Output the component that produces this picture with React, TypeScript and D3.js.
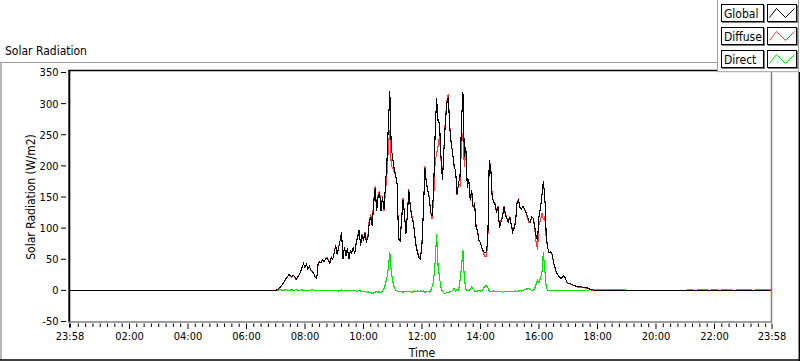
import React from 'react';
import * as d3 from 'd3';

const W = 800;
const H = 361;

const chartTitle = 'Solar Radiation';
const yAxisTitle = 'Solar Radiation (W/m2)';
const xAxisTitle = 'Time';
const seriesNames = ['Global', 'Diffuse', 'Direct'];
const seriesColors = ['#000000', '#ff3c3c', '#00e600'];

const dayStart = '2020-01-01T23:58';
const dayEnd = '2020-01-02T23:58';
const sampleStart = '2020-01-02T07:00';
const sampleStepMin = 3;

const globalRad = [
  0, 1, 3, 5, 8, 11, 15, 19, 22, 25,
  24, 22, 24, 22, 18, 21, 25, 30, 37, 43,
  37, 42, 34, 39, 33, 31, 27, 21, 19, 43,
  46, 44, 49, 46, 50, 52, 48, 44, 53, 50,
  60, 72, 58, 68, 80, 94, 50, 70, 55, 68,
  50, 64, 60, 69, 58, 76, 85, 97, 72, 88,
  80, 92, 78, 84, 110, 118, 104, 140, 165, 128,
  150, 158, 128, 150, 130, 168, 204, 265, 320, 230,
  212, 195, 185, 170, 82, 80, 110, 145, 124, 90,
  120, 161, 135, 118, 110, 90, 70, 60, 52, 50,
  75, 129, 196, 172, 160, 148, 125, 120, 165, 252,
  309, 272, 268, 215, 177, 225, 270, 300, 311, 262,
  235, 220, 200, 192, 155, 172, 183, 270, 318, 215,
  230, 165, 178, 145, 161, 134, 140, 102, 95, 80,
  76, 68, 63, 60, 62, 80, 209, 198, 150, 142,
  138, 125, 134, 100, 110, 116, 134, 122, 115, 110,
  118, 106, 94, 100, 110, 140, 145, 133, 130, 135,
  131, 126, 120, 112, 110, 118, 116, 104, 88, 81,
  118, 132, 152, 175, 150, 86, 68, 60, 62, 58,
  45, 36, 28, 25, 21, 19, 21, 24, 20, 14,
  11, 11, 10, 9, 8, 7, 6, 6, 6, 6,
  5, 5, 4, 4, 3, 1.5, 1, 0.5, 0.5, 0.5, 0,
];

const diffuseRad = [
  0, 0.5, 2.5, 4, 7.5, 11, 14.5, 18, 21.5, 25,
  23.5, 21, 24, 21.5, 17, 20.5, 25, 29.5, 36, 43,
  36.5, 42, 34.5, 39, 32.5, 30, 27, 21.5, 19, 42.5,
  46, 45, 49, 45.5, 50, 53, 48, 43.5, 53.5, 50,
  61, 72, 57.5, 69, 80, 93, 50.5, 70, 56, 68,
  50.5, 64, 61, 69.5, 58, 77, 86.5, 97, 73, 90,
  81.5, 94, 81, 86, 114, 121, 109, 144, 168, 130,
  153, 160, 132, 151, 127, 158, 184, 230, 258, 200,
  197, 190, 185, 171, 84, 81, 112, 148, 126, 91,
  122, 162, 137, 121, 112, 91, 72, 61, 54, 51,
  77, 130, 199, 174, 161, 151, 125, 114, 148, 207,
  219, 232, 248, 210, 179, 229, 275, 303, 315, 264,
  237, 220, 197, 193, 153, 172, 168, 234, 253, 198,
  228, 166, 178, 144, 155, 132, 141, 104, 96, 80,
  77, 68, 60, 54, 54, 75, 210, 200, 152, 143,
  140, 127, 135, 102, 112, 119, 136, 124, 116, 112,
  120, 107, 96, 102, 111, 142, 146, 133, 131, 135,
  130, 125, 117, 109, 109, 118, 116, 102, 78, 65,
  106, 112, 124, 114, 118, 81, 68, 61, 62, 57.5,
  44.5, 35.5, 27.5, 24.5, 20.5, 18.5, 20.5, 23.5, 19.5, 13.5,
  10.5, 10.5, 9.5, 8.5, 7.5, 6.5, 5.5, 5.5, 5.5, 5.5,
  4.5, 4.5, 3.5, 3.5, 2.5, 1, 0.5, 0, 0, 0, 0,
];

const directRad = [
  0, 0.5, 0.5, 1, 0.5, 0, 0.5, 1, 0.5, 0,
  0.5, 1, 0, 0.5, 1, 0.5, 0, 0.5, 1, 0,
  0.5, 0, -0.5, 0, 0.5, 1, 0, -0.5, 0, 0.5,
  0, -1, 0, 0.5, 0, -1, 0, 0.5, -0.5, 0,
  -1, 0, 0.5, -1, 0, 1, -0.5, 0, -1, 0,
  -0.5, 0, -1, -0.5, 0, -1, -1.5, 0, -1, -2,
  -1.5, -2, -3, -2, -4, -3, -5, -4, -3, -2,
  -3, -2, -4, -1, 3, 10, 20, 35, 62, 30,
  15, 5, 0, -1, -2, -1, -2, -3, -2, -1,
  -2, -1, -2, -3, -2, -1, -2, -1, -2, -1,
  -2, -1, -3, -2, -1, -3, 0, 6, 17, 45,
  90, 40, 20, 5, -2, -4, -5, -3, -4, -2,
  -2, 0, 3, -1, 2, 0, 15, 36, 65, 17,
  2, -1, 0, 1, 6, 2, -1, -2, -1, 0,
  -1, 0, 3, 6, 8, 5, -1, -2, -2, -1,
  -2, -2, -1, -2, -2, -3, -2, -2, -1, -2,
  -2, -1, -2, -2, -1, -2, -1, 0, -1, 0,
  1, 1, 3, 3, 1, 0, 0, 2, 10, 16,
  12, 20, 28, 61, 32, 5, 0, -1, 0, 0.5,
  0.5, 0.5, 0.5, 0.5, 0.5, 0.5, 0.5, 0.5, 0.5, 0.5,
  0.5, 0.5, 0.5, 0.5, 0.5, 0.5, 0.5, 0.5, 0.5, 0.5,
  0.5, 0.5, 0.5, 0.5, 0.5, 1, 1, 1.5, 1.5, 1.5, 1.5,
];

const eveningStart = '2020-01-02T18:10';
const eveningStepMin = 10;
const directEvening = [
  1.5, 1.5, 1.5, 1.5, 1.5, 0,
  0, 0, 0, 0, 0, 0, 0, 0, 0, 0, 0, 0,
  1.5, 0, 1.5, 1.5, 0, 1.5, 0, 1.5, 1.5, 0, 1.5, 1.5, 1.5, 0, 1.5, 1.5, 1.5,
];

const yTicks = [-50, 0, 50, 100, 150, 200, 250, 300, 350];
const xTickTimes = [
  '2020-01-01T23:58', '2020-01-02T02:00', '2020-01-02T04:00', '2020-01-02T06:00',
  '2020-01-02T08:00', '2020-01-02T10:00', '2020-01-02T12:00', '2020-01-02T14:00',
  '2020-01-02T16:00', '2020-01-02T18:00', '2020-01-02T20:00', '2020-01-02T22:00',
  '2020-01-02T23:58',
];

type Pt = { t: Date; v: number };

const FONT = "Tahoma, 'DejaVu Sans Condensed', 'Liberation Sans', Arial, sans-serif";

export default function App() {
  const start = new Date(dayStart);
  const end = new Date(dayEnd);
  const t0 = new Date(sampleStart);
  const te = new Date(eveningStart);

  const plotL = 70;
  const plotR = 772;
  const plotT = 70.5;
  const plotB = 322;

  const x = d3.scaleTime().domain([start, end]).range([plotL, plotR]);
  const y = d3.scaleLinear().domain([-50, 350]).range([321.5, 72.5]);

  const wave = (vals: number[], t: Date, step: number): Pt[] =>
    vals.map((v, i) => ({ t: d3.timeMinute.offset(t, i * step), v }));

  const globalPts: Pt[] = [{ t: start, v: 0 }, ...wave(globalRad, t0, sampleStepMin), { t: end, v: 0 }];
  const diffusePts: Pt[] = [{ t: start, v: 0 }, ...wave(diffuseRad, t0, sampleStepMin), { t: end, v: 0 }];
  const directPts: Pt[] = [
    { t: start, v: 0 },
    ...wave(directRad, t0, sampleStepMin),
    ...wave(directEvening, te, eveningStepMin),
    { t: end, v: 0 },
  ];

  const line = d3
    .line<Pt>()
    .x((d) => x(d.t))
    .y((d) => y(d.v));

  const majorTimes = xTickTimes.map((s) => new Date(s));
  const fmt = d3.timeFormat('%H:%M');
  const minorTimes = d3.timeMinute
    .every(15)!
    .range(d3.timeMinute.offset(start, 1), end)
    .filter((d) => (d.getHours() * 60 + d.getMinutes()) % 120 !== 0);

  const plots = [
    { pts: directPts, color: seriesColors[2] },
    { pts: diffusePts, color: seriesColors[1] },
    { pts: globalPts, color: seriesColors[0] },
  ];

  const legendRows = [4, 27, 50];

  return (
    <svg
      width={W}
      height={H}
      style={{ position: 'absolute', left: 0, top: 0, background: '#fff' }}
      fontFamily={FONT}
    >
      <rect x={0} y={0} width={W} height={H} fill="#fff" />
      {/* outer frame */}
      <line x1={0} x2={717} y1={62.5} y2={62.5} stroke="#a0a0a0" strokeWidth={1} />
      <line x1={1} x2={1} y1={62} y2={360} stroke="#a0a0a0" strokeWidth={1.5} />
      <line x1={0} x2={800} y1={360} y2={360} stroke="#000" strokeWidth={1.5} />
      <line x1={799.3} x2={799.3} y1={72} y2={361} stroke="#000" strokeWidth={1.5} />

      <text x={5} y={55} fontSize={12} fill="#000">
        {chartTitle}
      </text>

      {/* plot area */}
      <rect x={plotL} y={plotT} width={plotR - plotL} height={plotB - plotT} fill="#fff" />
      <clipPath id="plotclip">
        <rect x={plotL} y={plotT} width={plotR - plotL} height={plotB - plotT} />
      </clipPath>
      <g clipPath="url(#plotclip)">
        {plots.map((p, i) => (
          <path
            key={i}
            d={line(p.pts) || ''}
            fill="none"
            stroke={p.color}
            strokeWidth={1.1}
            shapeRendering="crispEdges"
          />
        ))}
      </g>

      {/* borders */}
      <line x1={68.5} x2={plotR} y1={70.5} y2={70.5} stroke="#000" strokeWidth={1.5} />
      <line x1={69.3} x2={69.3} y1={70} y2={322.5} stroke="#000" strokeWidth={2} />
      <line x1={69} x2={plotR} y1={322} y2={322} stroke="#808080" strokeWidth={1.5} />
      <line x1={771.5} x2={771.5} y1={70} y2={322.5} stroke="#808080" strokeWidth={1.5} />

      {/* y axis ticks */}
      {yTicks.map((v) => (
        <g key={v}>
          <line x1={61} x2={66} y1={y(v)} y2={y(v)} stroke="#000" strokeWidth={1} />
          <text x={58.5} y={y(v)} dy="0.36em" textAnchor="end" fontSize={11} fill="#000">
            {v}
          </text>
        </g>
      ))}

      {/* x axis ticks */}
      {minorTimes.map((d, i) => (
        <line key={'m' + i} x1={x(d)} x2={x(d)} y1={323.5} y2={327} stroke="#000" strokeWidth={1} />
      ))}
      {majorTimes.map((d, i) => (
        <g key={'M' + i}>
          <line
            x1={x(d)}
            x2={x(d)}
            y1={323.5}
            y2={i === 0 ? 327.5 : 329}
            stroke="#000"
            strokeWidth={i === 0 ? 2 : 1}
          />
          <text x={x(d)} y={340} textAnchor="middle" fontSize={11} fill="#000">
            {fmt(d)}
          </text>
        </g>
      ))}

      <text x={422} y={357} textAnchor="middle" fontSize={12} fill="#000">
        {xAxisTitle}
      </text>
      <text
        transform={`translate(35,${(72.5 + 321.5) / 2}) rotate(-90)`}
        textAnchor="middle"
        fontSize={12}
        fill="#000"
      >
        {yAxisTitle}
      </text>

      {/* legend */}
      <rect x={717} y={0} width={82} height={72} fill="#fff" />
      <line x1={717.5} x2={717.5} y1={0} y2={72} stroke="#a0a0a0" strokeWidth={1} />
      <line x1={717} x2={799} y1={71.7} y2={71.7} stroke="#a0a0a0" strokeWidth={1} />
      <line x1={798.5} x2={798.5} y1={0} y2={72} stroke="#a0a0a0" strokeWidth={1} />
      {seriesNames.map((name, i) => {
        const ry = legendRows[i];
        const sw = [
          [769.5, ry + 13.5],
          [776.5, ry + 4.5],
          [785.5, ry + 13.5],
          [794.5, ry + 4.5],
        ] as [number, number][];
        return (
          <g key={name}>
            <rect x={721.5} y={ry + 0.5} width={42} height={17} fill="#fff" stroke="#000" strokeWidth={1} />
            <line x1={764} x2={764} y1={ry + 1} y2={ry + 18.5} stroke="#000" strokeWidth={1} />
            <line x1={722} x2={764.5} y1={ry + 18} y2={ry + 18} stroke="#000" strokeWidth={1} />
            <text x={724} y={ry + 13.5} fontSize={12} fill="#000">
              {name}
            </text>
            <rect x={767.5} y={ry + 0.5} width={29} height={17} fill="#fff" stroke="#000" strokeWidth={1} />
            <line x1={797} x2={797} y1={ry + 1} y2={ry + 18.5} stroke="#000" strokeWidth={1} />
            <line x1={768} x2={797.5} y1={ry + 18} y2={ry + 18} stroke="#000" strokeWidth={1} />
            <path d={d3.line()(sw) || ''} fill="none" stroke={seriesColors[i]} strokeWidth={1} />
          </g>
        );
      })}
    </svg>
  );
}
